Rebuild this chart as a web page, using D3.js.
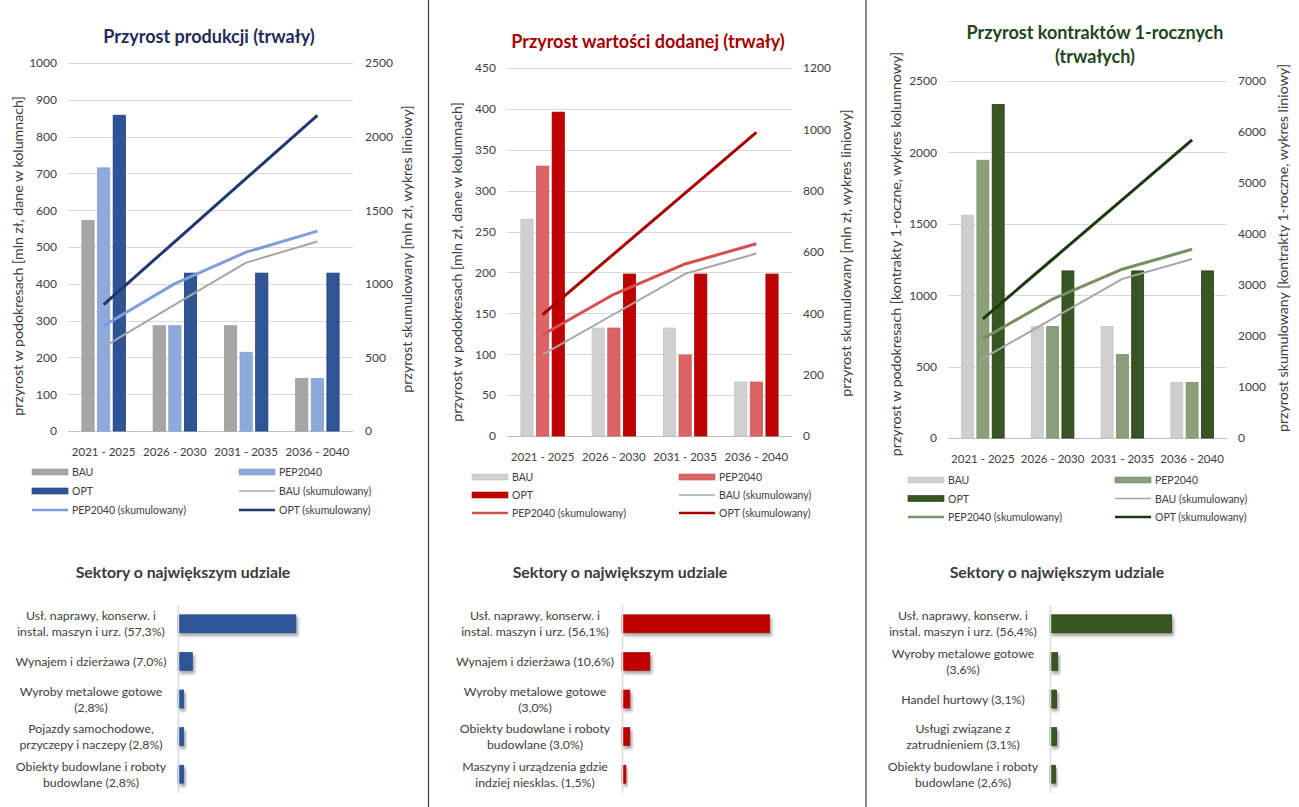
<!DOCTYPE html>
<html>
<head>
<meta charset="utf-8">
<script src="https://cdn.jsdelivr.net/npm/d3@7"></script>
<style>
  html, body { margin: 0; padding: 0; background: #fff; }
  svg { display: block; font-family: Lato, "Open Sans", sans-serif; }
</style>
</head>
<body>
<svg id="chart" width="1299" height="807"></svg>
<script>
// ---- shared categories ----
const periods = ["2021 - 2025", "2026 - 2030", "2031 - 2035", "2036 - 2040"];
const seriesNames = ["BAU", "PEP2040", "OPT"];

// ---- Przyrost produkcji (mln zł) ----
const prodBAU = [572, 286, 286, 143];
const prodPEP = [715, 286, 214, 143];
const prodOPT = [858, 429, 429, 429];
const prodBAUCum = [572, 858, 1144, 1287];
const prodPEPCum = [715, 1001, 1215, 1358];
const prodOPTCum = [858, 1287, 1716, 2145];
const prodLeftTicks = [0, 100, 200, 300, 400, 500, 600, 700, 800, 900, 1000];
const prodRightTicks = [0, 500, 1000, 1500, 2000, 2500];

// ---- Przyrost wartości dodanej (mln zł) ----
const vaBAU = [265, 132, 132, 66];
const vaPEP = [330, 132, 99, 66];
const vaOPT = [396, 198, 198, 198];
const vaBAUCum = [265, 397, 529, 595];
const vaPEPCum = [330, 462, 561, 627];
const vaOPTCum = [396, 594, 792, 990];
const vaLeftTicks = [0, 50, 100, 150, 200, 250, 300, 350, 400, 450];
const vaRightTicks = [0, 200, 400, 600, 800, 1000, 1200];

// ---- Przyrost kontraktów 1-rocznych ----
const kBAU = [1560, 780, 780, 390];
const kPEP = [1945, 780, 585, 390];
const kOPT = [2335, 1170, 1170, 1170];
const kBAUCum = [1560, 2340, 3120, 3510];
const kPEPCum = [1945, 2725, 3310, 3700];
const kOPTCum = [2335, 3505, 4675, 5845];
const kLeftTicks = [0, 500, 1000, 1500, 2000, 2500];
const kRightTicks = [0, 1000, 2000, 3000, 4000, 5000, 6000, 7000];

// ---- Sektory o największym udziale (%) ----
const prodSectors = [
  ["Usł. naprawy, konserw. i", "instal. maszyn i urz. (57,3%)"],
  ["Wynajem i dzierżawa (7,0%)"],
  ["Wyroby metalowe gotowe", "(2,8%)"],
  ["Pojazdy samochodowe,", "przyczepy i naczepy (2,8%)"],
  ["Obiekty budowlane i roboty", "budowlane (2,8%)"]
];
const prodShares = [57.3, 7.0, 2.8, 2.8, 2.8];

const vaSectors = [
  ["Usł. naprawy, konserw. i", "instal. maszyn i urz. (56,1%)"],
  ["Wynajem i dzierżawa (10,6%)"],
  ["Wyroby metalowe gotowe", "(3,0%)"],
  ["Obiekty budowlane i roboty", "budowlane (3,0%)"],
  ["Maszyny i urządzenia gdzie", "indziej niesklas. (1,5%)"]
];
const vaShares = [56.1, 10.6, 3.0, 3.0, 1.5];

const kSectors = [
  ["Usł. naprawy, konserw. i", "instal. maszyn i urz. (56,4%)"],
  ["Wyroby metalowe gotowe", "(3,6%)"],
  ["Handel hurtowy (3,1%)"],
  ["Usługi związane z", "zatrudnieniem (3,1%)"],
  ["Obiekty budowlane i roboty", "budowlane (2,6%)"]
];
const kShares = [56.4, 3.6, 3.1, 3.1, 2.6];

const svg = d3.select("#chart");
svg.append("rect").attr("width", 1299).attr("height", 807).attr("fill", "#fff");

// soft shadow under the horizontal bars
const defs = svg.append("defs");
const shadow = defs.append("filter").attr("id", "barShadow")
  .attr("x", "-20%").attr("y", "-40%").attr("width", "160%").attr("height", "200%");
shadow.append("feDropShadow").attr("dx", 2).attr("dy", 3).attr("stdDeviation", 1.8)
  .attr("flood-color", "#000").attr("flood-opacity", 0.35);

// panel separators
[428.5, 866].forEach(x => {
  svg.append("line").attr("x1", x).attr("x2", x).attr("y1", 0).attr("y2", 807)
    .attr("stroke", "#3a3a3a").attr("stroke-width", 1.2);
});

const TXT = "#404040";
const plain = d3.format("d");

function drawCombo(cfg) {
  const g = svg.append("g");
  const x0 = d3.scaleBand().domain(periods).range([cfg.left, cfg.right]);
  const cw = x0.bandwidth();
  const inner = cw * 0.61;
  const x1 = d3.scaleBand().domain(seriesNames)
    .range([(cw - inner) / 2, (cw + inner) / 2]).paddingInner(0.22);
  const yL = d3.scaleLinear().domain([0, d3.max(cfg.leftTicks)]).range([cfg.bottom, cfg.top]);
  const yR = d3.scaleLinear().domain([0, d3.max(cfg.rightTicks)]).range([cfg.bottom, cfg.top]);

  // gridlines
  g.append("g").selectAll("line").data(cfg.leftTicks).join("line")
    .attr("x1", cfg.left).attr("x2", cfg.right)
    .attr("y1", d => Math.round(yL(d)) + 0.5).attr("y2", d => Math.round(yL(d)) + 0.5)
    .attr("stroke", d => d === 0 ? "#bfbfbf" : "#d9d9d9").attr("stroke-width", 1);

  // left axis
  const la = g.append("g").attr("transform", `translate(${cfg.left - 11},0)`)
    .call(d3.axisLeft(yL).tickValues(cfg.leftTicks).tickFormat(plain).tickSize(0).tickPadding(0));
  la.select(".domain").remove();
  la.selectAll("text").attr("fill", TXT).style("font-size", "12px").style("font-family", "Lato");

  // right axis
  const ra = g.append("g").attr("transform", `translate(${cfg.rightLabelX},0)`)
    .call(d3.axisRight(yR).tickValues(cfg.rightTicks).tickFormat(plain).tickSize(0).tickPadding(0));
  ra.select(".domain").remove();
  ra.selectAll("text").attr("fill", TXT).style("font-size", "12px").style("font-family", "Lato");

  // category axis
  const xa = g.append("g").attr("transform", `translate(0,${cfg.bottom + 11})`)
    .call(d3.axisBottom(x0).tickSize(0).tickPadding(6));
  xa.select(".domain").remove();
  xa.selectAll("text").attr("fill", TXT).style("font-size", "11.5px").style("font-family", "Lato");

  // columns
  cfg.bars.forEach((vals, si) => {
    g.append("g").selectAll("rect").data(vals).join("rect")
      .attr("x", (d, i) => x0(periods[i]) + x1(seriesNames[si]))
      .attr("width", x1.bandwidth())
      .attr("y", d => yL(d))
      .attr("height", d => yL(0) - yL(d))
      .attr("fill", cfg.barColors[si])
      .attr("stroke", cfg.barStrokes[si]).attr("stroke-width", 0.8);
  });

  // cumulative lines
  const line = d3.line()
    .x((d, i) => x0(periods[i]) + cw / 2)
    .y(d => yR(d));
  cfg.cum.forEach((vals, si) => {
    g.append("path").datum(vals).attr("d", line)
      .attr("fill", "none").attr("stroke", cfg.lineColors[si])
      .attr("stroke-width", cfg.lineWidths[si]).attr("stroke-linejoin", "round");
  });

  // title
  const t = g.append("text").attr("x", cfg.titleX).attr("text-anchor", "middle")
    .attr("fill", cfg.titleColor).style("font-size", "18px").style("font-weight", "bold");
  cfg.title.forEach((s, i) => t.append("tspan").attr("x", cfg.titleX).attr("y", cfg.titleY + i * 24).text(s));

  // axis titles
  g.append("text").attr("transform", `translate(${cfg.leftTitleX},${cfg.leftTitleY}) rotate(-90)`)
    .attr("text-anchor", "middle").attr("dominant-baseline", "central")
    .attr("fill", TXT).style("font-size", "14.2px").text(cfg.leftTitle);
  g.append("text").attr("transform", `translate(${cfg.rightTitleX},${cfg.rightTitleY}) rotate(-90)`)
    .attr("text-anchor", "middle").attr("dominant-baseline", "central")
    .attr("fill", TXT).style("font-size", "14.2px").text(cfg.rightTitle);

  // legend
  const items = [
    { label: "BAU", kind: "bar", i: 0 },
    { label: "PEP2040", kind: "bar", i: 1 },
    { label: "OPT", kind: "bar", i: 2 },
    { label: "BAU (skumulowany)", kind: "line", i: 0 },
    { label: "PEP2040 (skumulowany)", kind: "line", i: 1 },
    { label: "OPT (skumulowany)", kind: "line", i: 2 }
  ];
  items.forEach((it, k) => {
    const col = k % 2, row = Math.floor(k / 2);
    const lx = cfg.legendX[col], ly = cfg.legendY + row * cfg.legendRow;
    if (it.kind === "bar") {
      g.append("rect").attr("x", lx).attr("y", ly - 3).attr("width", 36).attr("height", 6)
        .attr("fill", cfg.barColors[it.i]).attr("stroke", cfg.barStrokes[it.i]).attr("stroke-width", 0.6);
    } else {
      g.append("line").attr("x1", lx).attr("x2", lx + 36).attr("y1", ly).attr("y2", ly)
        .attr("stroke", cfg.lineColors[it.i]).attr("stroke-width", cfg.lineWidths[it.i] * 0.85);
    }
    g.append("text").attr("x", lx + 40).attr("y", ly).attr("dominant-baseline", "central")
      .attr("fill", TXT).style("font-size", "10.5px").text(it.label);
  });
}

function drawSectors(cfg) {
  const g = svg.append("g");
  const y = d3.scaleBand().domain(d3.range(cfg.names.length))
    .range([605, 793]).paddingInner(0.52).paddingOuter(0.26);
  const x = d3.scaleLinear().domain([0, 60]).range([cfg.axisX, cfg.axisX + cfg.width60]);

  g.append("text").attr("x", cfg.titleX).attr("y", 578).attr("text-anchor", "middle")
    .attr("fill", "#3a3a3a").style("font-size", "15.8px").style("font-weight", "bold")
    .text("Sektory o największym udziale");

  g.append("g").selectAll("rect").data(cfg.values).join("rect")
    .attr("x", x(0)).attr("y", (d, i) => y(i))
    .attr("width", d => x(d) - x(0)).attr("height", y.bandwidth())
    .attr("fill", cfg.color).attr("stroke", cfg.stroke).attr("stroke-width", 0.6)
    .attr("filter", "url(#barShadow)");

  g.append("line").attr("x1", cfg.axisX + 0.5).attr("x2", cfg.axisX + 0.5)
    .attr("y1", 605).attr("y2", 793).attr("stroke", "#d9d9d9").attr("stroke-width", 1.5);

  cfg.names.forEach((lines, i) => {
    const cy = y(i) + y.bandwidth() / 2;
    const t = g.append("text").attr("text-anchor", "middle").attr("fill", TXT)
      .style("font-size", "12.3px");
    const n = lines.length;
    lines.forEach((s, j) => {
      t.append("tspan").attr("x", cfg.labelX).attr("y", cy + (j - (n - 1) / 2) * 16)
        .attr("dominant-baseline", "central").text(s);
    });
  });
}

drawCombo({
  left: 68, right: 353, top: 63, bottom: 431, rightLabelX: 365,
  leftTicks: prodLeftTicks, rightTicks: prodRightTicks,
  bars: [prodBAU, prodPEP, prodOPT], cum: [prodBAUCum, prodPEPCum, prodOPTCum],
  barColors: ["#a6a6a6", "#8eaadb", "#2f5597"],
  barStrokes: ["#999999", "#7f9fd4", "#1f3c7a"],
  lineColors: ["#a6a6a6", "#7f9fdc", "#1f3872"],
  lineWidths: [2, 3, 3],
  title: ["Przyrost produkcji (trwały)"], titleColor: "#1f2a5a", titleX: 209, titleY: 43,
  leftTitle: "przyrost w podokresach [mln zł, dane w kolumnach]", leftTitleX: 17, leftTitleY: 256,
  rightTitle: "przyrost skumulowany [mln zł, wykres liniowy]", rightTitleX: 406, rightTitleY: 249,
  legendX: [32, 239], legendY: 472, legendRow: 19
});

drawCombo({
  left: 507, right: 792, top: 68, bottom: 436, rightLabelX: 803,
  leftTicks: vaLeftTicks, rightTicks: vaRightTicks,
  bars: [vaBAU, vaPEP, vaOPT], cum: [vaBAUCum, vaPEPCum, vaOPTCum],
  barColors: ["#d0d0d0", "#dc6464", "#c00000"],
  barStrokes: ["#c4c4c4", "#cc5555", "#a00000"],
  lineColors: ["#a6a6a6", "#d44f4f", "#a80000"],
  lineWidths: [2, 3, 3],
  title: ["Przyrost wartości dodanej (trwały)"], titleColor: "#a50000", titleX: 648, titleY: 48,
  leftTitle: "przyrost w podokresach [mln zł, dane w kolumnach]", leftTitleX: 456, leftTitleY: 262,
  rightTitle: "przyrost skumulowany [mln zł, wykres liniowy]", rightTitleX: 845, rightTitleY: 253,
  legendX: [472, 679], legendY: 477, legendRow: 18
});

drawCombo({
  left: 948, right: 1227, top: 81, bottom: 438, rightLabelX: 1238,
  leftTicks: kLeftTicks, rightTicks: kRightTicks,
  bars: [kBAU, kPEP, kOPT], cum: [kBAUCum, kPEPCum, kOPTCum],
  barColors: ["#cfcfcf", "#8a9f7a", "#375623"],
  barStrokes: ["#c4c4c4", "#7a8f6a", "#22380f"],
  lineColors: ["#a6a6a6", "#77905f", "#1c3a10"],
  lineWidths: [2, 3, 3],
  title: ["Przyrost kontraktów 1-rocznych", "(trwałych)"], titleColor: "#1e4620", titleX: 1095, titleY: 39,
  leftTitle: "przyrost w podokresach [kontrakty 1-roczne, wykres kolumnowy]", leftTitleX: 895, leftTitleY: 254,
  rightTitle: "przyrost skumulowany [kontrakty 1-roczne, wykres liniowy]", rightTitleX: 1282, rightTitleY: 248,
  legendX: [908, 1115], legendY: 480, legendRow: 18.5
});

drawSectors({ names: prodSectors, values: prodShares, color: "#2f5597", stroke: "#24457f",
  axisX: 178, width60: 123.5, labelX: 91, titleX: 183 });
drawSectors({ names: vaSectors, values: vaShares, color: "#c00000", stroke: "#a00000",
  axisX: 622, width60: 158, labelX: 535, titleX: 620 });
drawSectors({ names: kSectors, values: kShares, color: "#375623", stroke: "#22380f",
  axisX: 1050, width60: 129.5, labelX: 963, titleX: 1057 });
</script>
</body>
</html>
